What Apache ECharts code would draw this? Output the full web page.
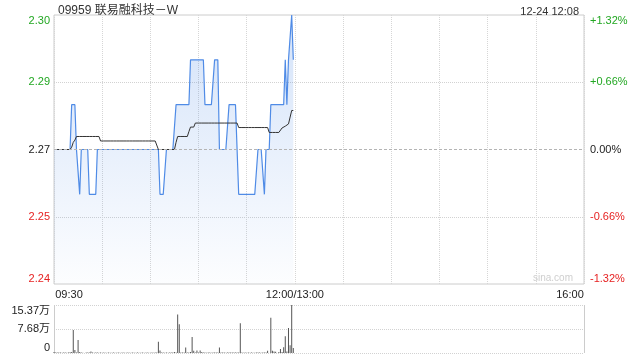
<!DOCTYPE html>
<html>
<head>
<meta charset="utf-8">
<script src="https://cdn.jsdelivr.net/npm/echarts@6/dist/echarts.min.js"></script>
<style>html,body{margin:0;padding:0;background:#fff}#c{width:640px;height:360px}</style>
</head>
<body>
<div id="c"></div>
<script>
// ---- data ----
const titleText = '09959 联易融科技－W';
const timeStamp = '12-24 12:08';
const prevClose = 2.27;
const timeTicks = [0, 150, 330];                 // minutes since 09:30 (lunch removed)
const timeTickLabels = ['09:30', '12:00/13:00', '16:00'];
const priceTicks = [2.24, 2.255, 2.27, 2.285, 2.30];
const priceTickLabels = ['2.24', '2.25', '2.27', '2.29', '2.30'];
const pctTicks = [-1.32, -0.66, 0, 0.66, 1.32];
const pctTickLabels = ['-1.32%', '-0.66%', '0.00%', '+0.66%', '+1.32%'];
const volTicks = [0, 76850, 153700];
const volTickLabels = ['0', '7.68万', '15.37万'];

// price per minute, 09:30 ...
const price = [
  2.27,2.27,2.27,2.27,2.27,2.27,2.27,2.27,2.27,2.27,
  2.27,2.28,2.28,2.28,2.27,2.27,2.26,2.27,2.27,2.27,
  2.27,2.27,2.26,2.26,2.26,2.26,2.26,2.27,2.27,2.27,
  2.27,2.27,2.27,2.27,2.27,2.27,2.27,2.27,2.27,2.27,
  2.27,2.27,2.27,2.27,2.27,2.27,2.27,2.27,2.27,2.27,
  2.27,2.27,2.27,2.27,2.27,2.27,2.27,2.27,2.27,2.27,
  2.27,2.27,2.27,2.27,2.27,2.27,2.26,2.26,2.26,2.26,
  2.27,2.27,2.27,2.27,2.27,2.27,2.28,2.28,2.28,2.28,
  2.28,2.28,2.28,2.28,2.28,2.29,2.29,2.29,2.29,2.29,
  2.29,2.29,2.29,2.29,2.28,2.28,2.28,2.28,2.28,2.28,
  2.29,2.29,2.29,2.27,2.27,2.27,2.27,2.27,2.27,2.28,
  2.28,2.28,2.28,2.28,2.28,2.26,2.26,2.26,2.26,2.26,
  2.26,2.26,2.26,2.26,2.26,2.26,2.26,2.27,2.27,2.27,
  2.27,2.26,2.27,2.27,2.27,2.28,2.28,2.28,2.28,2.28,
  2.28,2.28,2.28,2.28,2.29,2.28,2.29,2.29,2.30,2.29
];

// average price per minute
const avgPrice = [
  2.2700,2.2700,2.2700,2.2700,2.2700,2.2700,2.2700,2.2700,2.2700,2.2700,
  2.2700,2.2705,2.2716,2.2721,2.2729,2.2729,2.2729,2.2729,2.2729,2.2729,
  2.2729,2.2729,2.2729,2.2729,2.2729,2.2729,2.2729,2.2729,2.2729,2.2719,
  2.2719,2.2719,2.2719,2.2719,2.2719,2.2719,2.2719,2.2719,2.2719,2.2719,
  2.2719,2.2719,2.2719,2.2719,2.2719,2.2719,2.2719,2.2719,2.2719,2.2719,
  2.2719,2.2719,2.2719,2.2719,2.2719,2.2719,2.2719,2.2719,2.2719,2.2719,
  2.2719,2.2719,2.2719,2.2719,2.2719,2.2700,2.2700,2.2700,2.2700,2.2700,
  2.2700,2.2700,2.2700,2.2700,2.2700,2.2700,2.2716,2.2729,2.2729,2.2729,
  2.2729,2.2729,2.2729,2.2729,2.2740,2.2750,2.2750,2.2750,2.2759,2.2759,
  2.2759,2.2759,2.2759,2.2759,2.2759,2.2759,2.2759,2.2759,2.2759,2.2759,
  2.2759,2.2759,2.2759,2.2759,2.2759,2.2759,2.2759,2.2759,2.2759,2.2759,
  2.2759,2.2759,2.2759,2.2759,2.2759,2.2749,2.2749,2.2749,2.2749,2.2749,
  2.2749,2.2749,2.2749,2.2749,2.2749,2.2749,2.2749,2.2749,2.2749,2.2749,
  2.2749,2.2749,2.2749,2.2749,2.2738,2.2738,2.2738,2.2738,2.2738,2.2738,
  2.2738,2.2739,2.2748,2.2748,2.2752,2.2755,2.2757,2.2761,2.2787,2.2787
];

// volume per minute (shares)
const volume = [
  3000,2000,1500,2000,1500,1000,2000,1500,1000,2000,
  2500,3000,74000,10000,2000,42000,3000,2000,1000,0,
  1500,2000,1500,5000,2000,1000,1500,2000,1000,1500,
  1000,1500,1000,1000,1500,1000,1000,1500,1000,1000,
  1500,1000,1000,1500,1000,1000,1500,1000,1000,1500,
  1000,1000,1500,1000,1000,1500,1000,1000,1500,1000,
  1000,1500,1000,1500,2000,36000,8000,2000,1500,1000,
  1500,1000,1500,2000,1500,3000,2000,123000,92000,2000,
  1500,2000,17500,1500,2000,3000,51000,7000,2000,8000,
  2000,8000,3000,2000,1500,1000,2000,1500,1000,1500,
  2000,1500,2000,17500,1500,2000,1500,1000,1500,2000,
  1500,1500,2000,1500,2000,1500,95000,1500,1000,1500,
  1000,1500,1000,1500,1000,1000,1500,2000,1500,1000,
  2000,1500,2000,7000,0,113000,7000,5000,4000,0,
  3000,13000,3000,18500,54000,5000,80000,25000,153700,16000
];

// ---- chart ----
const FONT = '"Liberation Sans", "Noto Sans CJK SC", sans-serif';
const GREEN = '#22a722', RED = '#e62222', BLACK = '#222', GRID = '#cccccc';

function priceLabel(v) {
  let i = priceTicks.findIndex(t => Math.abs(t - v) < 1e-6);
  if (i < 0) return '';
  const c = v > prevClose + 1e-6 ? 'g' : (v < prevClose - 1e-6 ? 'r' : 'k');
  const pos = i === priceTicks.length - 1 ? 't' : (i === 0 ? 'b' : '');
  return '{' + c + pos + '|' + priceTickLabels[i] + '}';
}
function pctLabel(v) {
  let i = pctTicks.findIndex(t => Math.abs(t - v) < 1e-6);
  if (i < 0) return '';
  const c = v > 1e-6 ? 'g' : (v < -1e-6 ? 'r' : 'k');
  const pos = i === pctTicks.length - 1 ? 't' : (i === 0 ? 'b' : '');
  return '{' + c + pos + '|' + pctTickLabels[i] + '}';
}
function volLabel(v) {
  let i = volTicks.findIndex(t => Math.abs(t - v) < 1);
  if (i < 0) return '';
  const pos = i === volTicks.length - 1 ? 't' : (i === 0 ? 'b' : '');
  return '{k' + pos + '|' + volTickLabels[i] + '}';
}
function richSet() {
  const base = {fontSize: 11, fontFamily: FONT};
  const r = {};
  [['g', GREEN], ['r', RED], ['k', BLACK]].forEach(([k, col]) => {
    r[k] = Object.assign({color: col}, base);
    r[k + 't'] = Object.assign({color: col, padding: [11, 0, 0, 0]}, base);
    r[k + 'b'] = Object.assign({color: col, padding: [0, 0, 11, 0]}, base);
  });
  return r;
}

const chart = echarts.init(document.getElementById('c'), null, {renderer: 'canvas'});
chart.setOption({
  animation: false,
  backgroundColor: '#fff',
  title: [
    {text: titleText, left: 53, top: 0,
     textStyle: {fontSize: 12, fontWeight: 'normal', color: '#333', fontFamily: FONT}},
    {text: timeStamp, right: 56, top: 1,
     textStyle: {fontSize: 11, fontWeight: 'normal', color: '#333', fontFamily: FONT}}
  ],
  graphic: [
    {type: 'text', right: 67, top: 273, silent: true,
     style: {text: 'sina.com', fill: '#cfcfcf', font: '10px ' + FONT}}
  ],
  grid: [
    {left: 54, right: 56, top: 15, height: 269, show: true, borderColor: GRID, borderWidth: 1,
     backgroundColor: 'transparent'},
    {left: 54, right: 56, top: 305, height: 48, show: false}
  ],
  xAxis: [
    {type: 'value', gridIndex: 0, min: 0, max: 330, interval: 30,
     axisLine: {show: false}, axisTick: {show: false},
     splitLine: {show: true, lineStyle: {color: '#d6d6d6', type: [1, 1], width: 1}},
     axisLabel: {
       customValues: timeTicks, margin: 5, color: BLACK, fontSize: 11, fontFamily: FONT,
       formatter: function (v) {
         const i = timeTicks.indexOf(v);
         if (i === 0) return '{l|' + timeTickLabels[i] + '}';
         if (i === timeTicks.length - 1) return '{rr|' + timeTickLabels[i] + '}';
         return timeTickLabels[i];
       },
       rich: {
         l: {fontSize: 11, fontFamily: FONT, color: BLACK, padding: [0, 0, 0, 30]},
         rr: {fontSize: 11, fontFamily: FONT, color: BLACK, padding: [0, 28, 0, 0]}
       }
     }},
    {type: 'value', gridIndex: 1, min: 0, max: 330, interval: 330,
     axisLine: {show: false}, axisTick: {show: false}, axisLabel: {show: false},
     splitLine: {show: true, lineStyle: {color: GRID, type: 'solid', width: 1}}}
  ],
  yAxis: [
    {type: 'value', gridIndex: 0, position: 'left', min: 2.24, max: 2.30,
     axisLine: {show: false}, axisTick: {show: false}, splitLine: {show: false},
     axisLabel: {customValues: priceTicks, margin: 4, formatter: priceLabel, rich: richSet()}},
    {type: 'value', gridIndex: 0, position: 'right', min: -1.32, max: 1.32, interval: 0.66,
     axisLine: {show: false}, axisTick: {show: false},
     splitLine: {show: true, lineStyle: {
       color: ['rgba(0,0,0,0)', '#d2d2d2', 'rgba(0,0,0,0)', '#d2d2d2', 'rgba(0,0,0,0)'], type: [1, 1], width: 1}},
     axisLabel: {margin: 6, formatter: pctLabel, rich: richSet()}},
    {type: 'value', gridIndex: 1, position: 'left', min: 0, max: volTicks[2], interval: volTicks[1],
     axisLine: {show: false}, axisTick: {show: false},
     splitLine: {show: true, lineStyle: {color: '#d2d2d2', type: [1, 1], width: 1}},
     axisLabel: {margin: 4, formatter: volLabel, rich: richSet()}}
  ],
  series: [
    {type: 'line', name: 'price', xAxisIndex: 0, yAxisIndex: 0,
     data: price.map((p, i) => [i, p]), showSymbol: false, symbol: 'none',
     lineStyle: {color: '#4f8be6', width: 1.2},
     areaStyle: {origin: 'start', color: new echarts.graphic.LinearGradient(0, 0, 0, 1, [
       {offset: 0, color: 'rgba(74,136,230,0.34)'},
       {offset: 1, color: 'rgba(74,136,230,0.02)'}])},
     markLine: {silent: true, symbol: 'none', label: {show: false},
       lineStyle: {color: '#b4b4b4', type: [3, 2], width: 1},
       data: [{yAxis: prevClose}]},
     z: 2},
    {type: 'line', name: 'avg', xAxisIndex: 0, yAxisIndex: 0,
     data: avgPrice.map((p, i) => [i, p]), showSymbol: false, symbol: 'none',
     lineStyle: {color: '#333', width: 1}, z: 3},
    {type: 'bar', name: 'volume', xAxisIndex: 1, yAxisIndex: 2,
     data: volume.map((v, i) => [i, v]), barWidth: 1,
     itemStyle: {color: '#555'}}
  ]
});
</script>
</body>
</html>
